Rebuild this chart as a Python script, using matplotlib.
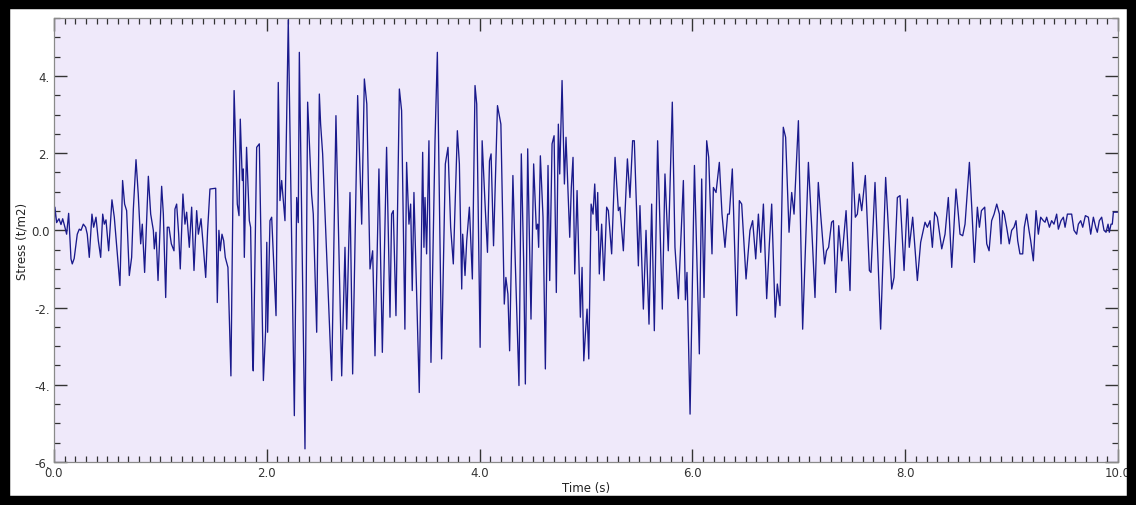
import matplotlib
matplotlib.use("Agg")
import matplotlib.pyplot as plt
from matplotlib.patches import Rectangle
from matplotlib.ticker import MultipleLocator, FixedLocator, FixedFormatter

# turning points: time (s) and stress (t/m2)
time_s = [
    0.0, 0.009, 0.025, 0.047, 0.066, 0.082, 0.103, 0.119, 0.138, 0.16,
    0.172, 0.19, 0.219, 0.238, 0.254, 0.276, 0.298, 0.313, 0.332, 0.357,
    0.373, 0.395, 0.417, 0.439, 0.458, 0.473, 0.489, 0.514, 0.545, 0.567,
    0.595, 0.62, 0.645, 0.664, 0.683, 0.708, 0.73, 0.746, 0.771, 0.792,
    0.815, 0.83, 0.852, 0.887, 0.909, 0.934, 0.943, 0.959, 0.978, 1.012,
    1.028, 1.05, 1.065, 1.081, 1.103, 1.128, 1.137, 1.153, 1.172, 1.187,
    1.212, 1.231, 1.247, 1.272, 1.294, 1.316, 1.341, 1.357, 1.382, 1.404,
    1.426, 1.444, 1.466, 1.52, 1.535, 1.55, 1.563, 1.579, 1.595, 1.61,
    1.635, 1.663, 1.693,
    1.723, 1.739, 1.751, 1.77, 1.779, 1.789, 1.81, 1.836, 1.848, 1.867,
    1.873, 1.905, 1.93, 1.968, 1.989, 2.0, 2.008, 2.03, 2.046, 2.087,
    2.108, 2.124, 2.14, 2.171, 2.202, 2.259, 2.281, 2.296, 2.306, 2.359,
    2.384, 2.421, 2.437, 2.469, 2.494, 2.506, 2.525, 2.61, 2.65, 2.704,
    2.735, 2.751, 2.782, 2.807, 2.854, 2.892, 2.917, 2.94, 2.97, 2.995,
    3.017, 3.054, 3.086, 3.126, 3.158, 3.173, 3.189, 3.214, 3.246, 3.267,
    3.298, 3.314, 3.336, 3.352, 3.367, 3.383,
    3.433, 3.465, 3.477, 3.487, 3.502, 3.524, 3.543, 3.581, 3.603, 3.643,
    3.678, 3.703, 3.728, 3.753, 3.791, 3.81, 3.832, 3.841, 3.863, 3.879,
    3.904, 3.932, 3.957, 3.973, 4.005, 4.024, 4.052, 4.074, 4.093, 4.108,
    4.131, 4.168, 4.2, 4.232, 4.247, 4.266, 4.282, 4.313, 4.335, 4.37,
    4.392, 4.414, 4.43, 4.452, 4.483, 4.508, 4.533, 4.546, 4.555, 4.571,
    4.596, 4.618, 4.643, 4.659, 4.681, 4.7, 4.721, 4.74, 4.753, 4.775,
    4.797, 4.812, 4.847, 4.862, 4.878, 4.894, 4.916, 4.947, 4.963, 4.979,
    4.994, 5.01, 5.026, 5.048, 5.066, 5.082,
    5.1, 5.11, 5.125, 5.147, 5.169, 5.194, 5.21, 5.241, 5.273, 5.304,
    5.319, 5.351, 5.389, 5.413, 5.438, 5.454, 5.492, 5.507, 5.539, 5.564,
    5.592, 5.617, 5.642, 5.673, 5.717, 5.742, 5.773, 5.811, 5.836, 5.868,
    5.915, 5.934, 5.949, 5.978, 6.019, 6.065, 6.087, 6.109, 6.134, 6.153,
    6.184, 6.197, 6.222, 6.253, 6.278, 6.306, 6.331, 6.347, 6.375, 6.416,
    6.441, 6.463, 6.504, 6.541, 6.566, 6.595, 6.62, 6.642, 6.667, 6.698,
    6.723, 6.745,
    6.778, 6.798, 6.823, 6.854, 6.876, 6.908, 6.933, 6.955, 6.996, 7.036,
    7.09, 7.121, 7.152, 7.183, 7.205, 7.242, 7.26, 7.28, 7.308, 7.325,
    7.347, 7.375, 7.403, 7.444, 7.481, 7.506, 7.531, 7.55, 7.569, 7.591,
    7.625, 7.663, 7.678, 7.716, 7.769, 7.816, 7.873, 7.895, 7.926, 7.951,
    7.989, 8.02, 8.038, 8.07, 8.114, 8.145, 8.186, 8.208, 8.233, 8.255,
    8.277, 8.302, 8.343, 8.374, 8.405, 8.437,
    8.477, 8.499, 8.515, 8.54, 8.562, 8.603, 8.625, 8.65, 8.678, 8.697,
    8.716, 8.747, 8.766, 8.788, 8.812, 8.835, 8.86, 8.885, 8.9, 8.915,
    8.931, 8.953, 8.978, 9.0, 9.022, 9.041, 9.057, 9.078, 9.104, 9.119,
    9.141, 9.163, 9.179, 9.204, 9.229, 9.251, 9.273, 9.298, 9.314, 9.329,
    9.355, 9.376, 9.398, 9.423, 9.439, 9.464, 9.486, 9.502, 9.524, 9.539,
    9.564, 9.586, 9.611, 9.627, 9.649, 9.668, 9.693, 9.721, 9.743, 9.768,
    9.79, 9.805, 9.824, 9.846, 9.868, 9.887, 9.906, 9.918, 9.934, 9.946,
    9.956, 10.0,
]
stress = [
    0.0, 0.6, 0.2, 0.3, 0.15, 0.3, 0.08, -0.1, 0.44, -0.74,
    -0.87, -0.73, -0.1, 0.03, 0.0, 0.16, 0.08, -0.1, -0.7, 0.42,
    0.08, 0.34, -0.27, -0.7, 0.42, 0.16, 0.27, -0.53, 0.79, 0.34,
    -0.61, -1.43, 1.29, 0.68, 0.51, -1.17, -0.7, 0.55, 1.83, 0.94,
    -0.35, 0.16, -1.09, 1.4, 0.42, 0.0, -0.48, -0.05, -1.3, 1.14,
    0.42, -1.74, 0.08, 0.08, -0.35, -0.53, 0.55, 0.68, -0.1, -1.0,
    0.94, 0.16, 0.47, -0.44, 0.6, -1.04, 0.51, -0.1, 0.3, -0.44,
    -1.22, 0.0, 1.07, 1.09, -1.87, 0.0, -0.53, -0.1, -0.27, -0.7,
    -0.96, -3.77, 3.62,
    0.68, 0.38, 2.88, 1.29, 1.59, -0.7, 2.15, 0.25, 0.08, -3.38,
    -3.64, 2.15, 2.24, -3.89, -2.6, -0.31, -2.64, 0.25, 0.34, -2.21,
    3.83, 0.77, 1.29, 0.25, 5.45, -4.8, 0.85, 0.2, 4.61, -5.66,
    3.32, 0.94, 0.42, -2.64, 3.53, 2.75, 1.98, -3.89, 2.97, -3.77,
    -0.44, -2.56, 0.98, -3.72, 3.49, 0.16, 3.92, 3.27, -1.0, -0.53,
    -3.25, 1.59, -3.16, 2.15, -2.25, 0.42, 0.51, -2.21, 3.66, 3.1,
    -2.56, 1.76, 0.16, 0.68, -1.56, 0.98,
    -4.2, 2.02, -0.44, 0.85, -0.61, 2.32, -3.42, 2.32, 4.61, -3.33,
    1.72, 2.15, 0.08, -0.87, 2.58, 1.72, -1.52, -0.1, -1.17, -0.27,
    0.6, -1.26, 3.75, 3.27, -3.03, 2.32, 0.64, -0.57, 1.8, 1.98,
    -0.4, 3.23, 2.75, -1.91, -1.22, -1.65, -3.12, 1.42, -0.79, -4.02,
    1.98, -0.79, -3.98, 2.11, -2.3, 1.72, 0.03, 0.16, -0.44, 1.93,
    0.34, -3.59, 1.68, -1.3, 2.24, 2.45, -1.61, 2.75, 1.46, 3.88,
    1.2, 2.41, -0.18, 1.11, 1.89, -1.13, 1.03, -2.25, -0.96, -3.38,
    -2.69, -2.04, -3.33, 0.68, 0.42, 1.2,
    0.0, 0.98, -1.13, 0.16, -1.3, 0.6, 0.51, -0.61, 1.89, 0.51,
    0.6, -0.53, 1.85, 0.85, 2.32, 2.32, -0.92, 0.64, -2.04, 0.0,
    -2.43, 0.68, -2.6, 2.32, -2.04, 1.46, -0.53, 3.32, -0.44, -1.77,
    1.29, -1.8, -1.09, -4.76, 1.68, -3.2, 1.33, -1.74, 2.32, 1.89,
    -0.61, 1.11, 0.98, 1.76, 0.42, -0.44, 0.42, 0.42, 1.59, -2.21,
    0.77, 0.68, -1.26, 0.0, 0.25, -0.74, 0.42, -0.57, 0.68, -1.77,
    -0.35, 0.68,
    -2.25, -1.39, -1.95, 2.67, 2.41, -0.05, 0.98, 0.42, 2.84, -2.56,
    1.76, 0.08, -1.74, 1.24, 0.42, -0.87, -0.53, -0.44, 0.21, 0.25,
    -1.61, 0.12, -0.79, 0.51, -1.56, 1.76, 0.34, 0.42, 0.94, 0.51,
    1.42, -1.04, -1.09, 1.24, -2.56, 1.37, -1.52, -1.22, 0.85, 0.9,
    -1.04, 0.81, -0.44, 0.34, -1.3, -0.31, 0.21, 0.08, 0.25, -0.44,
    0.47, 0.34, -0.48, -0.1, 0.85, -0.96,
    1.07, 0.42, -0.1, -0.14, 0.16, 1.76, 0.6, -0.83, 0.6, 0.08,
    0.51, 0.6, -0.35, -0.53, 0.25, 0.42, 0.68, 0.42, -0.35, 0.51,
    0.42, 0.08, -0.35, 0.0, 0.08, 0.25, -0.27, -0.61, -0.61, 0.08,
    0.42, 0.0, -0.27, -0.79, 0.51, -0.1, 0.34, 0.25, 0.21, 0.34,
    0.08, 0.25, 0.16, 0.42, 0.03, 0.25, 0.34, 0.08, 0.42, 0.42,
    0.42, 0.0, -0.1, 0.16, 0.25, 0.08, 0.38, 0.34, -0.1, 0.34,
    0.08, -0.05, 0.25, 0.34, 0.0, -0.05, 0.16, -0.05, 0.16, 0.16,
    0.47, 0.47,
]

x_ticks = [0, 2, 4, 6, 8, 10]
x_labels = ["0.0", "2.0", "4.0", "6.0", "8.0", "10.0"]
y_ticks = [-6, -4, -2, 0, 2, 4]
y_labels = ["-6.", "-4.", "-2.", "0.0", "2.", "4."]

fig = plt.figure(figsize=(11.36, 5.06), dpi=100)
fig.patch.set_facecolor("white")
ax = fig.add_axes([0.0475, 0.085, 0.9367, 0.8775])
ax.set_facecolor("#efe9fa")

ax.plot(time_s, stress, color="#1a1a8c", linewidth=0.95)

ax.set_xlim(0, 10)
ax.set_ylim(-6, 5.5)
ax.xaxis.set_major_locator(FixedLocator(x_ticks))
ax.xaxis.set_major_formatter(FixedFormatter(x_labels))
ax.xaxis.set_minor_locator(MultipleLocator(0.1))
ax.yaxis.set_major_locator(FixedLocator(y_ticks))
ax.yaxis.set_major_formatter(FixedFormatter(y_labels))
ax.yaxis.set_minor_locator(MultipleLocator(0.5))

ax.tick_params(which="both", direction="in", top=True, right=True,
               color="#333333", labelsize=8.5, labelcolor="#333333")
ax.tick_params(which="major", length=9.5, width=1.0, pad=3)
ax.tick_params(which="minor", length=4.5, width=0.9)
for s in ax.spines.values():
    s.set_color("#8a8a8a")
    s.set_linewidth(0.9)

ax.set_xlabel("Time (s)", fontsize=8.5, color="#222222", labelpad=1)
ax.set_ylabel("Stress (t/m2)", fontsize=8.5, color="#222222", labelpad=2)

# thick black frame round the whole picture
fig.patches.append(Rectangle((0, 0), 1, 1, transform=fig.transFigure,
                             fill=False, edgecolor="black", linewidth=14))

fig.savefig("out.png", dpi=100)
